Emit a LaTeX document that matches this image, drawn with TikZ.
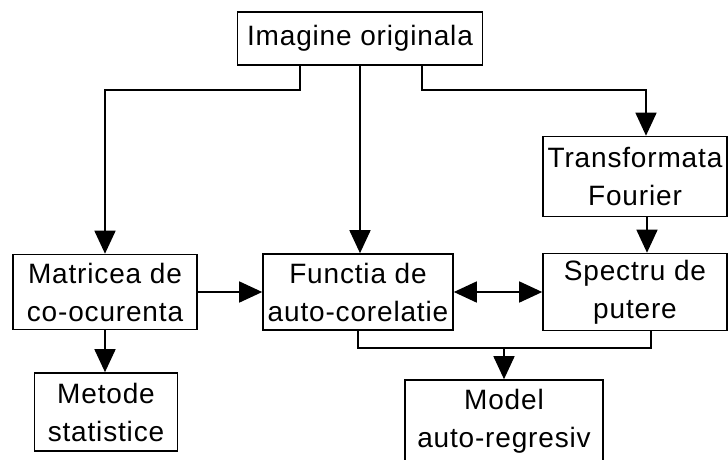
\documentclass[tikz,border=0pt]{standalone}
\usepackage{fontspec}
\setmainfont{Liberation Sans}[LetterSpace=3.0]
\usetikzlibrary{arrows.meta}
\tikzset{
  bloc/.style={draw, line width=1.6pt, align=center, inner sep=0pt,
    font=\fontsize{28}{38}\selectfont},
  fl/.style={line width=1.6pt, -{Triangle[length=23pt,width=21pt]}},
  fll/.style={line width=1.6pt, {Triangle[length=23pt,width=21pt]}-{Triangle[length=23pt,width=21pt]}},
  lg/.style={line width=1.6pt},
}
\begin{document}
\begin{tikzpicture}[x=1pt,y=-1pt]
  \useasboundingbox (0,0) rectangle (728,459);
  \clip (0,0) rectangle (728,459);
  % blocs
  \node[bloc, minimum width=245pt, minimum height=53pt] (img) at (360,38.5) {Imagine originala};
  \node[bloc, minimum width=184pt, minimum height=80pt] (tf) at (635,176.5) {Transformata\\Fourier};
  \node[bloc, minimum width=184pt, minimum height=75pt] (mat) at (105,292) {Matricea de\\co-ocurenta};
  \node[bloc, minimum width=190pt, minimum height=76pt] (fac) at (358,292) {Functia de\\auto-corelatie};
  \node[bloc, minimum width=184pt, minimum height=77pt] (sp) at (635,292) {Spectru de\\putere};
  \node[bloc, minimum width=143pt, minimum height=78pt] (met) at (106,412) {Metode\\statistice};
  \node[bloc, minimum width=198pt, minimum height=82pt] (mod) at (504,421) {Model\\auto-regresiv};
  \coordinate (jn) at (504,348);
  % legaturi
  \draw[fl] ([xshift=-60pt]img.south) -- ++(0,24) -| (mat.north);
  \draw[fl] (img.south) -- (img.south |- fac.north);
  \draw[fl] ([xshift=62pt]img.south) -- ++(0,24) -| ([xshift=11pt]tf.north);
  \draw[fl] ([xshift=12pt]tf.south) -- ([xshift=12pt]sp.north);
  \draw[fl] (mat.east) -- (fac.west);
  \draw[fll] (fac.east) -- (sp.west);
  \draw[fl] (mat.south) -- (mat.south |- met.north);
  \draw[lg] (fac.south) |- (jn) -| ([xshift=16pt]sp.south);
  \draw[fl] (jn) -- (mod.north);
\end{tikzpicture}
\end{document}
